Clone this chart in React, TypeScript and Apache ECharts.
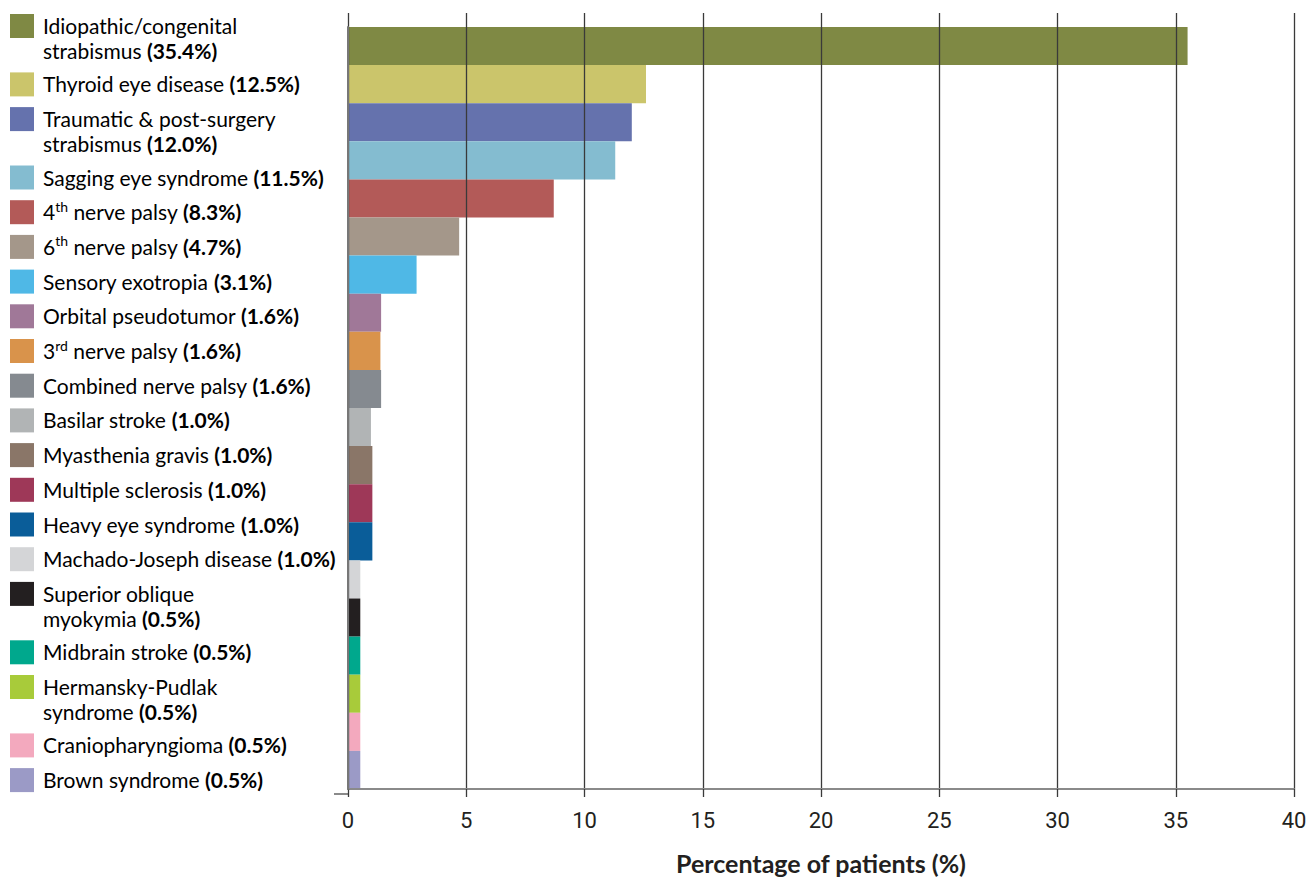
import React, { useEffect, useRef } from "react";
import * as echarts from "echarts";

// Category names (legend text; ^..^ marks superscript, \n marks line break)
const categories = [
  "Idiopathic/congenital\nstrabismus",
  "Thyroid eye disease",
  "Traumatic & post-surgery\nstrabismus",
  "Sagging eye syndrome",
  "4^th^ nerve palsy",
  "6^th^ nerve palsy",
  "Sensory exotropia",
  "Orbital pseudotumor",
  "3^rd^ nerve palsy",
  "Combined nerve palsy",
  "Basilar stroke",
  "Myasthenia gravis",
  "Multiple sclerosis",
  "Heavy eye syndrome",
  "Machado-Joseph disease",
  "Superior oblique\nmyokymia",
  "Midbrain stroke",
  "Hermansky-Pudlak\nsyndrome",
  "Craniopharyngioma",
  "Brown syndrome",
];

// Percentages printed in the legend
const percentLabels = [
  "35.4%", "12.5%", "12.0%", "11.5%", "8.3%", "4.7%", "3.1%", "1.6%", "1.6%", "1.6%",
  "1.0%", "1.0%", "1.0%", "1.0%", "1.0%", "0.5%", "0.5%", "0.5%", "0.5%", "0.5%",
];

// Bar lengths as drawn in the figure
const barValues = [
  35.5, 12.6, 12.0, 11.3, 8.7, 4.7, 2.9, 1.4, 1.37, 1.4,
  0.97, 1.03, 1.03, 1.03, 0.52, 0.52, 0.52, 0.52, 0.52, 0.52,
];

const colors = [
  "#7f8944", "#cbc56b", "#6572ad", "#84bcd0", "#b35a58", "#a4978a", "#4fb8e6", "#a07898",
  "#d9934b", "#858a90", "#b1b4b5", "#8a7668", "#9e3858", "#0a5d99", "#d4d5d7", "#231f20",
  "#00a88d", "#a8cb3a", "#f3a9be", "#9b9ac6",
];

const xTicks = { min: 0, max: 40, interval: 5 };
const xAxisName = "Percentage of patients (%)";

const FONT = "Lato, 'Open Sans', sans-serif";
const NUM_FONT = "'Liberation Sans Narrow', Roboto, sans-serif";

function toRich(name: string, pct: string): string {
  const lines = name.split("\n");
  return lines
    .map((line, li) => {
      const parts = line.split("^");
      let out = parts
        .map((p, i) => (p === "" ? "" : i % 2 === 1 ? `{s|${p}}` : `{n|${p}}`))
        .join("");
      if (li === lines.length - 1) out += `{n| }{b|(${pct})}`;
      return out;
    })
    .join("\n");
}

function buildLegend(): any[] {
  const els: any[] = [];
  let y = 14;
  categories.forEach((name, i) => {
    const lines = name.split("\n").length;
    els.push({
      type: "rect",
      shape: { x: 10, y, width: 24, height: 24 },
      style: { fill: colors[i] },
    });
    els.push({
      type: "text",
      x: 43,
      y: y - 1,
      style: {
        text: toRich(name, percentLabels[i]),
        verticalAlign: "top",
        align: "left",
        rich: {
          n: { fontSize: 21, fontFamily: FONT, color: "#231f20", lineHeight: 25 },
          b: { fontSize: 21, fontFamily: FONT, fontWeight: "bold", color: "#231f20", lineHeight: 25 },
          s: { fontSize: 14, fontFamily: FONT, color: "#231f20", lineHeight: 14, verticalAlign: "top" },
        },
      },
    });
    y += 34.7 + (lines - 1) * 23.7;
  });
  els.push({
    type: "line",
    shape: { x1: 334, y1: 794, x2: 348, y2: 794 },
    style: { stroke: "#8a8a8a", lineWidth: 2 },
  });
  return els;
}

export default function App() {
  const ref = useRef<HTMLDivElement>(null);
  useEffect(() => {
    document.body.style.margin = "0";
    const chart = echarts.init(ref.current!, null, { renderer: "svg" });
    const gridLine = { color: "#3a3a3a", width: 1.3 };
    chart.setOption({
      animation: false,
      backgroundColor: "#ffffff",
      grid: { left: 348, right: 16, top: 27, bottom: 86 },
      xAxis: [
        {
          type: "value",
          ...xTicks,
          position: "bottom",
          z: 5,
          axisLine: { show: true, lineStyle: { color: "#8a8a8a", width: 2 } },
          axisTick: { show: true, length: 8, lineStyle: gridLine },
          axisLabel: { fontSize: 22, color: "#231f20", margin: 20, fontFamily: NUM_FONT },
          splitLine: { show: true, lineStyle: gridLine },
          name: xAxisName,
          nameLocation: "middle",
          nameGap: 61,
          nameTextStyle: { fontSize: 25, fontWeight: "bold", color: "#231f20", fontFamily: FONT },
        },
        {
          type: "value",
          ...xTicks,
          position: "top",
          z: 5,
          axisLine: { show: false },
          axisTick: { show: true, length: 14, lineStyle: gridLine },
          axisLabel: { show: false },
          splitLine: { show: false },
        },
      ],
      yAxis: {
        type: "category",
        data: categories,
        inverse: true,
        z: 6,
        axisLine: { show: true, onZero: false, lineStyle: { color: "#777777", width: 2 } },
        axisTick: { show: false },
        axisLabel: { show: false },
        splitLine: { show: false },
      },
      series: [
        {
          type: "bar",
          xAxisIndex: 0,
          barCategoryGap: "0%",
          data: barValues.map((v, i) => ({ value: v, itemStyle: { color: colors[i] } })),
        },
      ],
      graphic: buildLegend(),
    });
    return () => chart.dispose();
  }, []);
  return <div ref={ref} style={{ width: 1310, height: 880 }} />;
}
